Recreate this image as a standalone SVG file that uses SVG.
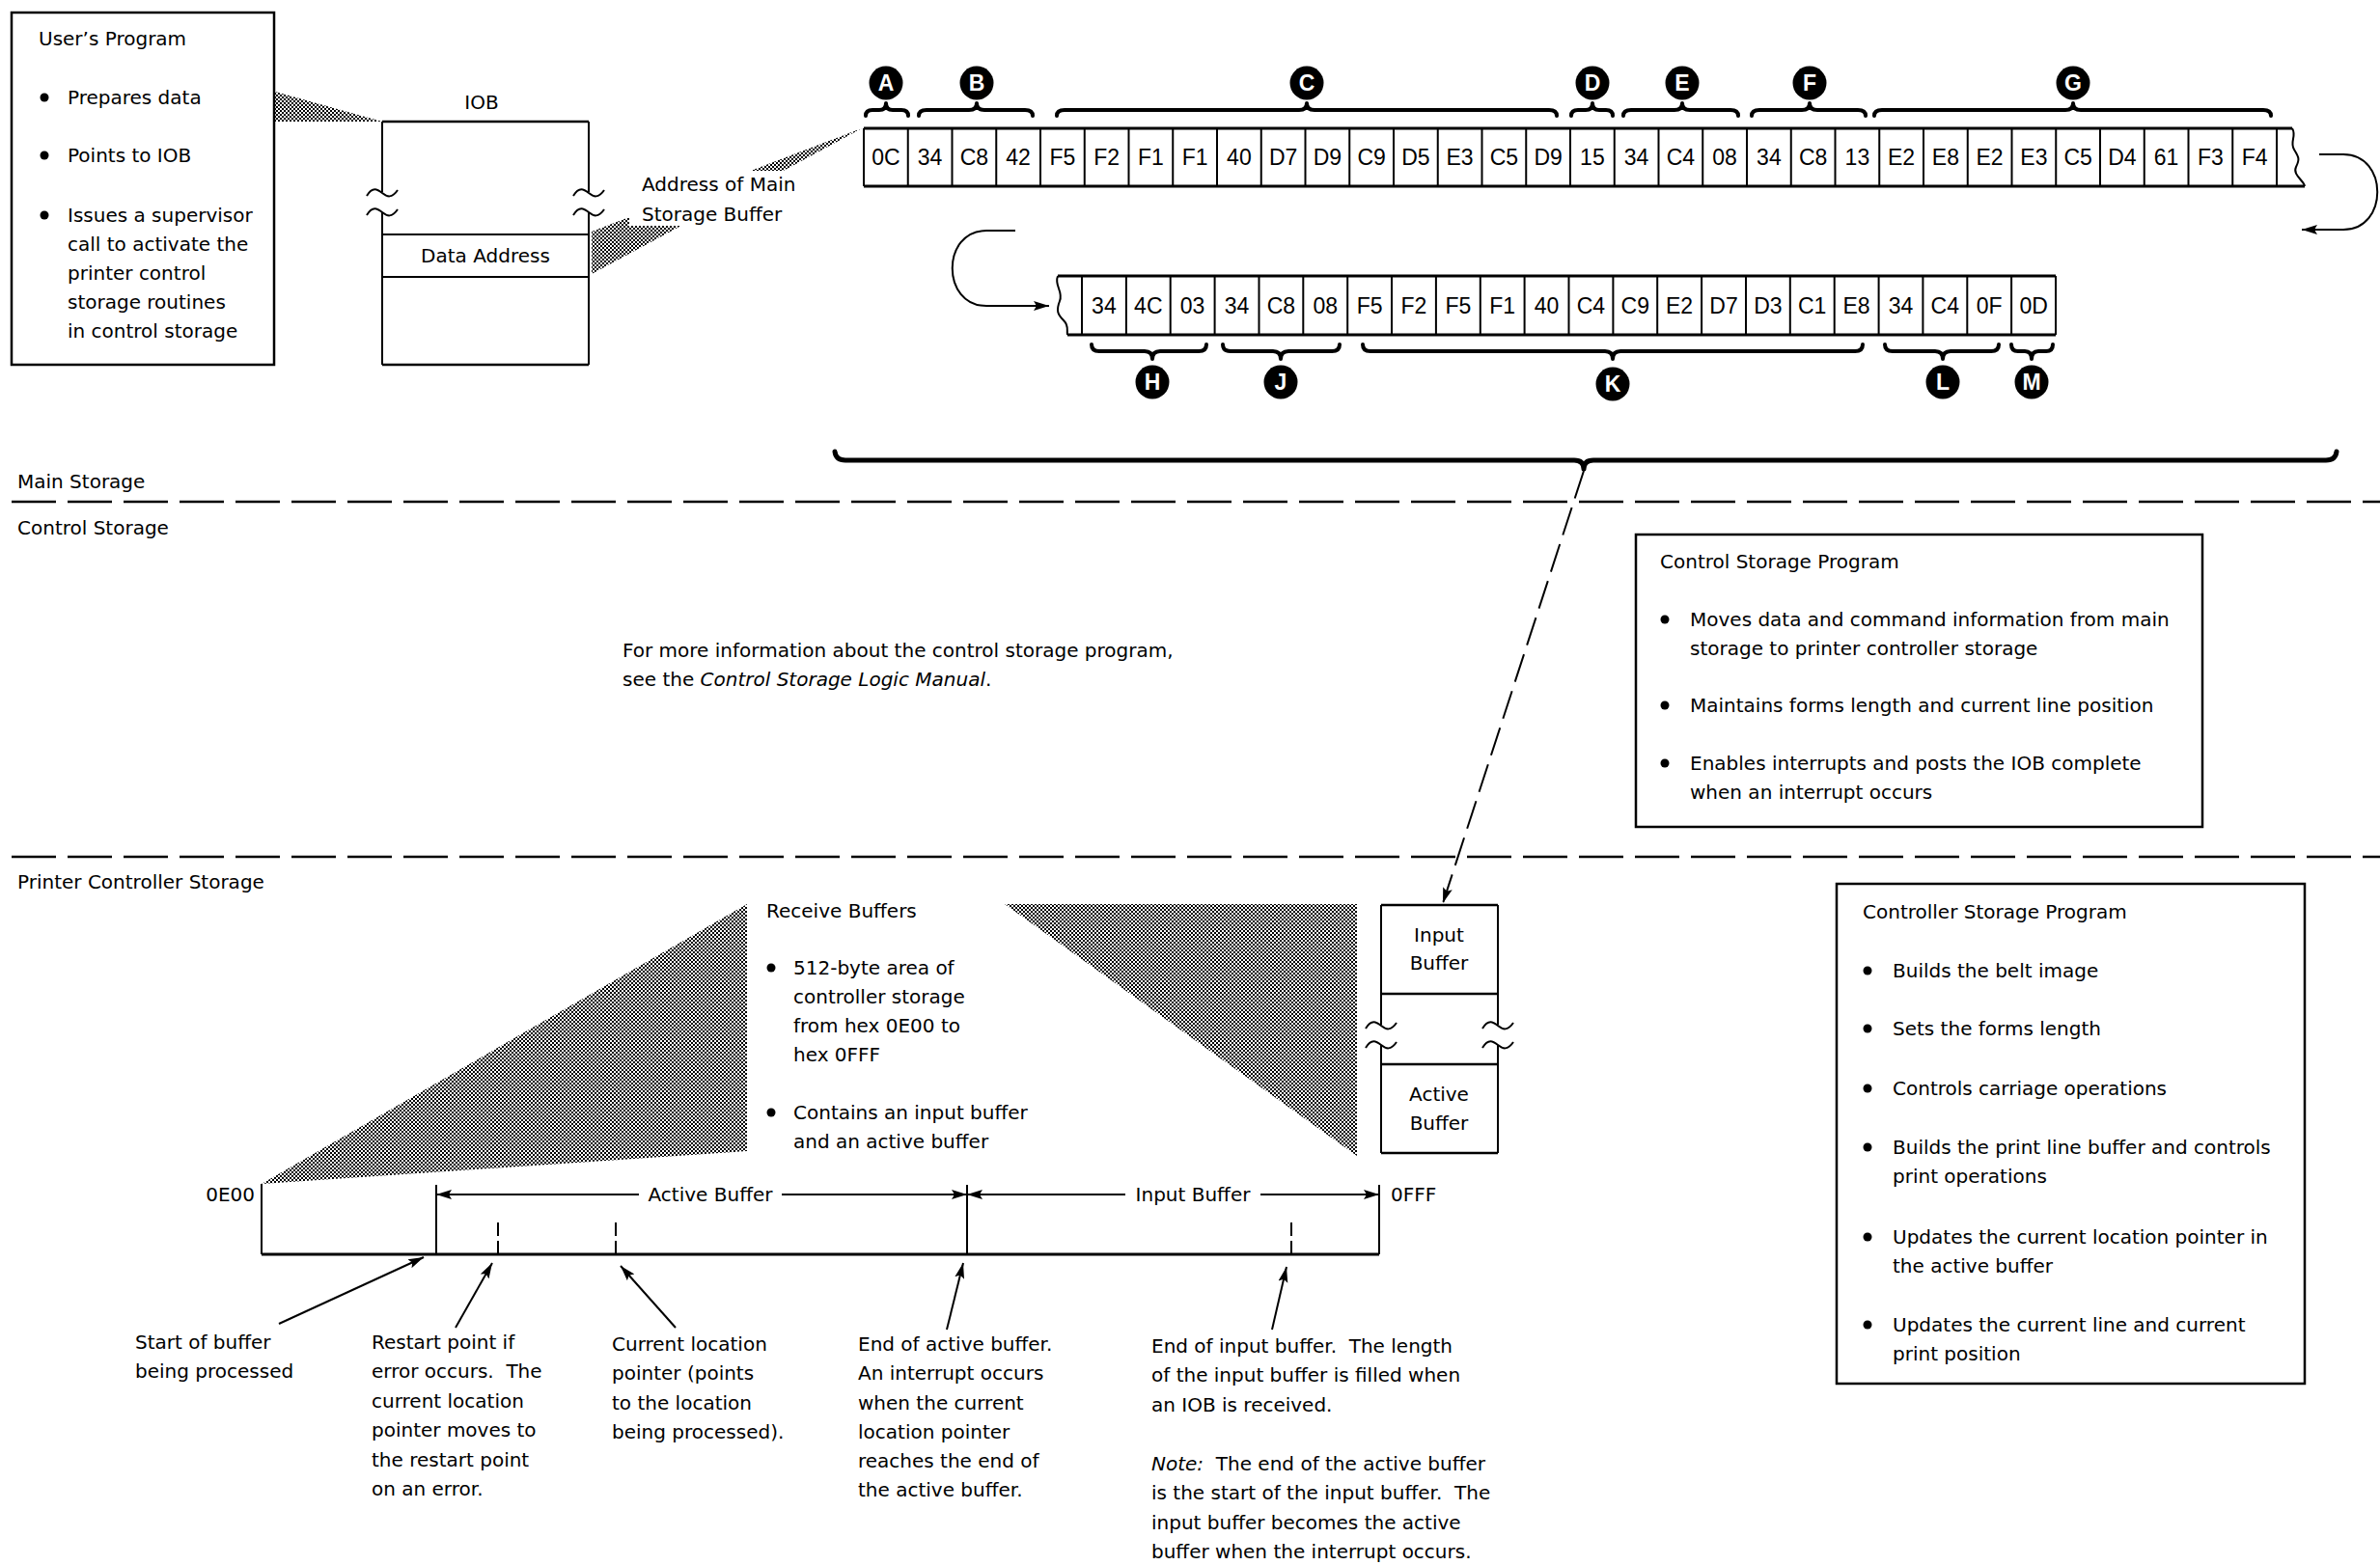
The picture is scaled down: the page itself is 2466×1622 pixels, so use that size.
<svg xmlns="http://www.w3.org/2000/svg" xmlns:xlink="http://www.w3.org/1999/xlink" width="2466" height="1622" viewBox="0 0 2466 1622">
<style>
.t{font-family:"DejaVu Sans","Liberation Sans",sans-serif;font-size:20px;fill:#000;white-space:pre}
.hex{font-family:"Liberation Sans",Arial,sans-serif;font-size:23px;fill:#000;text-anchor:middle}
.lbl{font-family:"Liberation Sans",Arial,sans-serif;font-weight:bold;font-size:23px;fill:#fff;text-anchor:middle}
.box{fill:none;stroke:#000;stroke-width:2.5}
.ln{fill:none;stroke:#000;stroke-width:2}
.thk{fill:none;stroke:#000;stroke-width:3}
.brace{fill:none;stroke:#000;stroke-width:4;stroke-linejoin:round;stroke-linecap:round}
.dash{fill:none;stroke:#000;stroke-width:2.5;stroke-dasharray:46 12}
.tick{fill:none;stroke:#000;stroke-width:2;stroke-dasharray:14 5}
.shade{fill:url(#dots);stroke:none}
.arr{fill:none;stroke:#000;stroke-width:2;marker-end:url(#ah)}
.c{fill:#000}
</style>
<defs>
<pattern id="dots" patternUnits="userSpaceOnUse" width="4" height="4">
<rect x="0" y="0" width="2" height="2" fill="#000"/>
<rect x="2" y="2" width="2" height="2" fill="#000"/>
</pattern>
<marker id="ah" markerUnits="userSpaceOnUse" markerWidth="18" markerHeight="12" refX="16" refY="6" orient="auto">
<path d="M0,1 L16,6 L0,11 L3,6 z" fill="#000"/>
</marker>
<path id="tilde" d="M-16,3 C-10,-7 -5,-4 0,0 S10,6 16,-3" fill="none" stroke="#000" stroke-width="2"/>
</defs>
<rect width="2466" height="1622" fill="#fff"/>

<!-- region separators -->
<g id="separators">
<line class="dash" x1="12" y1="520" x2="2466" y2="520"/>
<line class="dash" x1="12" y1="888" x2="2466" y2="888"/>
<text class="t" x="18" y="506">Main Storage</text>
<text class="t" x="18" y="554">Control Storage</text>
<text class="t" x="18" y="921">Printer Controller Storage</text>
</g>

<!-- shaded wedges -->
<g id="wedges">
<polygon class="shade" points="285,95 285,126 396,126"/>
<polygon class="shade" points="613,240 613,284 893,133"/>
<rect x="652" y="177" width="186" height="57" fill="#fff"/>
<polygon class="shade" points="271,1227 774,937 774,1193"/>
<polygon class="shade" points="1041,937 1406,937 1406,1198"/>
</g>

<g id="users-program">
<rect class="box" x="12" y="13" width="272" height="365"/>
<text class="t" x="40" y="47">User’s Program</text>
<circle class="c" cx="46" cy="101" r="4.5"/>
<text class="t" x="70" y="108">Prepares data</text>
<circle class="c" cx="46" cy="161" r="4.5"/>
<text class="t" x="70" y="168">Points to IOB</text>
<circle class="c" cx="46" cy="223" r="4.5"/>
<text class="t" x="70" y="230">Issues a supervisor</text>
<text class="t" x="70" y="260">call to activate the</text>
<text class="t" x="70" y="290">printer control</text>
<text class="t" x="70" y="320">storage routines</text>
<text class="t" x="70" y="350">in control storage</text>
</g>

<g id="iob">
<text class="t" x="499" y="113" text-anchor="middle">IOB</text>
<line class="box" x1="396" y1="126" x2="610" y2="126"/>
<line class="box" x1="396" y1="378" x2="610" y2="378"/>
<line class="ln" x1="396" y1="243" x2="610" y2="243"/>
<line class="ln" x1="396" y1="287" x2="610" y2="287"/>
<line class="ln" x1="396" y1="126" x2="396" y2="199"/>
<line class="ln" x1="396" y1="220" x2="396" y2="378"/>
<line class="ln" x1="610" y1="126" x2="610" y2="199"/>
<line class="ln" x1="610" y1="220" x2="610" y2="378"/>
<use xlink:href="#tilde" x="396" y="200"/>
<use xlink:href="#tilde" x="396" y="220"/>
<use xlink:href="#tilde" x="610" y="200"/>
<use xlink:href="#tilde" x="610" y="220"/>
<text class="t" x="503" y="272" text-anchor="middle">Data Address</text>
</g>

<g id="address-label">
<text class="t" x="665" y="198">Address of Main</text>
<text class="t" x="665" y="229">Storage Buffer</text>
</g>

<g id="buffer-row-1">
<line class="thk" x1="895" y1="133" x2="2375" y2="133"/>
<line class="thk" x1="895" y1="193" x2="2388" y2="193"/>
<path class="ln" d="M2375,133 c5,8 -3,14 2,22 s6,10 2,18 s8,14 9,20"/>
<path class="ln" d="M895,133V193M940.75,133V193M986.5,133V193M1032.25,133V193M1078,133V193M1123.75,133V193M1169.5,133V193M1215.25,133V193M1261,133V193M1306.75,133V193M1352.5,133V193M1398.25,133V193M1444,133V193M1489.75,133V193M1535.5,133V193M1581.25,133V193M1627,133V193M1672.75,133V193M1718.5,133V193M1764.25,133V193M1810,133V193M1855.75,133V193M1901.5,133V193M1947.25,133V193M1993,133V193M2038.75,133V193M2084.5,133V193M2130.25,133V193M2176,133V193M2221.75,133V193M2267.5,133V193M2313.25,133V193M2359,133V193"/>
<text class="hex" x="917.9" y="171">0C</text>
<text class="hex" x="963.6" y="171">34</text>
<text class="hex" x="1009.4" y="171">C8</text>
<text class="hex" x="1055.1" y="171">42</text>
<text class="hex" x="1100.9" y="171">F5</text>
<text class="hex" x="1146.6" y="171">F2</text>
<text class="hex" x="1192.4" y="171">F1</text>
<text class="hex" x="1238.1" y="171">F1</text>
<text class="hex" x="1283.9" y="171">40</text>
<text class="hex" x="1329.6" y="171">D7</text>
<text class="hex" x="1375.4" y="171">D9</text>
<text class="hex" x="1421.1" y="171">C9</text>
<text class="hex" x="1466.9" y="171">D5</text>
<text class="hex" x="1512.6" y="171">E3</text>
<text class="hex" x="1558.4" y="171">C5</text>
<text class="hex" x="1604.1" y="171">D9</text>
<text class="hex" x="1649.9" y="171">15</text>
<text class="hex" x="1695.6" y="171">34</text>
<text class="hex" x="1741.4" y="171">C4</text>
<text class="hex" x="1787.1" y="171">08</text>
<text class="hex" x="1832.9" y="171">34</text>
<text class="hex" x="1878.6" y="171">C8</text>
<text class="hex" x="1924.4" y="171">13</text>
<text class="hex" x="1970.1" y="171">E2</text>
<text class="hex" x="2015.9" y="171">E8</text>
<text class="hex" x="2061.6" y="171">E2</text>
<text class="hex" x="2107.4" y="171">E3</text>
<text class="hex" x="2153.1" y="171">C5</text>
<text class="hex" x="2198.9" y="171">D4</text>
<text class="hex" x="2244.6" y="171">61</text>
<text class="hex" x="2290.4" y="171">F3</text>
<text class="hex" x="2336.1" y="171">F4</text>
</g>

<g id="labels-row-1">
<path class="brace" d="M897,120 Q897,114 904,114 L911,114 Q918,114 918,107 Q918,114 925,114 L934,114 Q941,114 941,120"/>
<path class="brace" d="M952,120 Q952,114 960,114 L1004,114 Q1012,114 1012,107 Q1012,114 1020,114 L1062,114 Q1070,114 1070,120"/>
<path class="brace" d="M1095,120 Q1095,114 1103,114 L1346,114 Q1354,114 1354,107 Q1354,114 1362,114 L1605,114 Q1613,114 1613,120"/>
<path class="brace" d="M1628,120 Q1628,114 1635,114 L1643,114 Q1650,114 1650,107 Q1650,114 1657,114 L1664,114 Q1671,114 1671,120"/>
<path class="brace" d="M1682,120 Q1682,114 1690,114 L1735,114 Q1743,114 1743,107 Q1743,114 1751,114 L1793,114 Q1801,114 1801,120"/>
<path class="brace" d="M1815,120 Q1815,114 1823,114 L1867,114 Q1875,114 1875,107 Q1875,114 1883,114 L1925,114 Q1933,114 1933,120"/>
<path class="brace" d="M1942,120 Q1942,114 1950,114 L2140,114 Q2148,114 2148,107 Q2148,114 2156,114 L2345,114 Q2353,114 2353,120"/>
<circle class="c" cx="918" cy="86" r="17.5"/><text class="lbl" x="918" y="94">A</text>
<circle class="c" cx="1012" cy="86" r="17.5"/><text class="lbl" x="1012" y="94">B</text>
<circle class="c" cx="1354" cy="86" r="17.5"/><text class="lbl" x="1354" y="94">C</text>
<circle class="c" cx="1650" cy="86" r="17.5"/><text class="lbl" x="1650" y="94">D</text>
<circle class="c" cx="1743" cy="86" r="17.5"/><text class="lbl" x="1743" y="94">E</text>
<circle class="c" cx="1875" cy="86" r="17.5"/><text class="lbl" x="1875" y="94">F</text>
<circle class="c" cx="2148" cy="86" r="17.5"/><text class="lbl" x="2148" y="94">G</text>
</g>

<g id="buffer-row-2">
<line class="thk" x1="1096" y1="286" x2="2130" y2="286"/>
<line class="thk" x1="1106" y1="347" x2="2130" y2="347"/>
<path class="ln" d="M1096,286 c-4,10 6,16 2,26 s-2,14 4,20 s3,10 4,15"/>
<path class="ln" d="M1121,286V347M1166.9,286V347M1212.7,286V347M1258.6,286V347M1304.5,286V347M1350.3,286V347M1396.2,286V347M1442,286V347M1487.9,286V347M1533.8,286V347M1579.6,286V347M1625.5,286V347M1671.4,286V347M1717.2,286V347M1763.1,286V347M1809,286V347M1854.8,286V347M1900.7,286V347M1946.6,286V347M1992.4,286V347M2038.3,286V347M2084.1,286V347M2130,286V347"/>
<text class="hex" x="1143.9" y="325">34</text>
<text class="hex" x="1189.8" y="325">4C</text>
<text class="hex" x="1235.6" y="325">03</text>
<text class="hex" x="1281.5" y="325">34</text>
<text class="hex" x="1327.4" y="325">C8</text>
<text class="hex" x="1373.2" y="325">08</text>
<text class="hex" x="1419.1" y="325">F5</text>
<text class="hex" x="1464.9" y="325">F2</text>
<text class="hex" x="1510.8" y="325">F5</text>
<text class="hex" x="1556.7" y="325">F1</text>
<text class="hex" x="1602.5" y="325">40</text>
<text class="hex" x="1648.4" y="325">C4</text>
<text class="hex" x="1694.3" y="325">C9</text>
<text class="hex" x="1740.1" y="325">E2</text>
<text class="hex" x="1786" y="325">D7</text>
<text class="hex" x="1831.9" y="325">D3</text>
<text class="hex" x="1877.7" y="325">C1</text>
<text class="hex" x="1923.6" y="325">E8</text>
<text class="hex" x="1969.5" y="325">34</text>
<text class="hex" x="2015.3" y="325">C4</text>
<text class="hex" x="2061.2" y="325">0F</text>
<text class="hex" x="2107.1" y="325">0D</text>
</g>

<g id="labels-row-2">
<path class="brace" d="M1131,357 Q1131,364 1139,364 L1186,364 Q1194,364 1194,372 Q1194,364 1202,364 L1242,364 Q1250,364 1250,357"/>
<path class="brace" d="M1267,357 Q1267,364 1275,364 L1319,364 Q1327,364 1327,372 Q1327,364 1335,364 L1380,364 Q1388,364 1388,357"/>
<path class="brace" d="M1412,357 Q1412,364 1420,364 L1663,364 Q1671,364 1671,372 Q1671,364 1679,364 L1922,364 Q1930,364 1930,357"/>
<path class="brace" d="M1953,357 Q1953,364 1961,364 L2005,364 Q2013,364 2013,372 Q2013,364 2021,364 L2063,364 Q2071,364 2071,357"/>
<path class="brace" d="M2084,357 Q2084,364 2091,364 L2098,364 Q2105,364 2105,372 Q2105,364 2112,364 L2120,364 Q2127,364 2127,357"/>
<circle class="c" cx="1194" cy="396" r="17.5"/><text class="lbl" x="1194" y="404">H</text>
<circle class="c" cx="1327" cy="396" r="17.5"/><text class="lbl" x="1327" y="404">J</text>
<circle class="c" cx="1671" cy="398" r="17.5"/><text class="lbl" x="1671" y="406">K</text>
<circle class="c" cx="2013" cy="396" r="17.5"/><text class="lbl" x="2013" y="404">L</text>
<circle class="c" cx="2105" cy="396" r="17.5"/><text class="lbl" x="2105" y="404">M</text>
<path class="brace" style="stroke-width:5" d="M865,468 Q866,477 876,477 L1631,477 Q1641,477 1641,486 Q1641,477 1651,477 L2410,477 Q2420,477 2421,468"/>
</g>

<g id="connectors">
<path class="arr" d="M2403,160 L2428,160 C2475,160 2475,238 2428,238 L2385,238"/>
<path class="arr" d="M1052,239 L1022,239 C975,239 975,317 1022,317 L1087,317"/>
<path class="arr" style="stroke-dasharray:30 10" d="M1641,488 L1495,936"/>
<line class="arr" x1="289" y1="1372" x2="439" y2="1303"/>
<line class="arr" x1="472" y1="1376" x2="510" y2="1309"/>
<line class="arr" x1="700" y1="1376" x2="643" y2="1312"/>
<line class="arr" x1="981" y1="1378" x2="998" y2="1309"/>
<line class="arr" x1="1318" y1="1378" x2="1333" y2="1313"/>
<line class="arr" x1="662" y1="1238" x2="452" y2="1238"/>
<line class="arr" x1="810" y1="1238" x2="1002" y2="1238"/>
<line class="arr" x1="1166" y1="1238" x2="1002" y2="1238"/>
<line class="arr" x1="1306" y1="1238" x2="1429" y2="1238"/>
</g>

<g id="note-control-storage">
<text class="t" x="645" y="681">For more information about the control storage program,</text>
<text class="t" x="645" y="711">see the <tspan font-style="italic">Control Storage Logic Manual</tspan>.</text>
</g>

<g id="control-storage-program">
<rect class="box" x="1695" y="554" width="587" height="303"/>
<text class="t" x="1720" y="589">Control Storage Program</text>
<circle class="c" cx="1725" cy="642" r="4.5"/>
<text class="t" x="1751" y="649">Moves data and command information from main</text>
<text class="t" x="1751" y="679">storage to printer controller storage</text>
<circle class="c" cx="1725" cy="731" r="4.5"/>
<text class="t" x="1751" y="738">Maintains forms length and current line position</text>
<circle class="c" cx="1725" cy="791" r="4.5"/>
<text class="t" x="1751" y="798">Enables interrupts and posts the IOB complete</text>
<text class="t" x="1751" y="828">when an interrupt occurs</text>
</g>

<g id="receive-buffers">
<text class="t" x="794" y="951">Receive Buffers</text>
<circle class="c" cx="799" cy="1003" r="4.5"/>
<text class="t" x="822" y="1010">512-byte area of</text>
<text class="t" x="822" y="1040">controller storage</text>
<text class="t" x="822" y="1070">from hex 0E00 to</text>
<text class="t" x="822" y="1100">hex 0FFF</text>
<circle class="c" cx="799" cy="1153" r="4.5"/>
<text class="t" x="822" y="1160">Contains an input buffer</text>
<text class="t" x="822" y="1190">and an active buffer</text>
</g>

<g id="input-active-box">
<line class="box" x1="1431" y1="938" x2="1552" y2="938"/>
<line class="box" x1="1431" y1="1030" x2="1552" y2="1030"/>
<line class="box" x1="1431" y1="1103" x2="1552" y2="1103"/>
<line class="box" x1="1431" y1="1195" x2="1552" y2="1195"/>
<line class="ln" x1="1431" y1="938" x2="1431" y2="1062"/>
<line class="ln" x1="1431" y1="1083" x2="1431" y2="1195"/>
<line class="ln" x1="1552" y1="938" x2="1552" y2="1062"/>
<line class="ln" x1="1552" y1="1083" x2="1552" y2="1195"/>
<use xlink:href="#tilde" x="1431" y="1063"/>
<use xlink:href="#tilde" x="1431" y="1083"/>
<use xlink:href="#tilde" x="1552" y="1063"/>
<use xlink:href="#tilde" x="1552" y="1083"/>
<text class="t" x="1491" y="976" text-anchor="middle">Input</text>
<text class="t" x="1491" y="1005" text-anchor="middle">Buffer</text>
<text class="t" x="1491" y="1141" text-anchor="middle">Active</text>
<text class="t" x="1491" y="1171" text-anchor="middle">Buffer</text>
</g>

<g id="storage-bar">
<path class="ln" d="M271,1227 V1300 M452,1228 V1300 M1002,1228 V1300 M1429,1228 V1300"/>
<line class="thk" x1="271" y1="1300" x2="1429" y2="1300"/>
<line class="tick" x1="516" y1="1267" x2="516" y2="1300"/>
<line class="tick" x1="638" y1="1267" x2="638" y2="1300"/>
<line class="tick" x1="1338" y1="1267" x2="1338" y2="1300"/>
<text class="t" x="264" y="1245" text-anchor="end">0E00</text>
<text class="t" x="1441" y="1245">0FFF</text>
<text class="t" x="736" y="1245" text-anchor="middle">Active Buffer</text>
<text class="t" x="1236" y="1245" text-anchor="middle">Input Buffer</text>
</g>

<g id="pointer-notes">
<text class="t" x="140" y="1398">Start of buffer</text>
<text class="t" x="140" y="1428">being processed</text>
<text class="t" x="385" y="1398">Restart point if</text>
<text class="t" x="385" y="1428">error occurs.  The</text>
<text class="t" x="385" y="1459">current location</text>
<text class="t" x="385" y="1489">pointer moves to</text>
<text class="t" x="385" y="1520">the restart point</text>
<text class="t" x="385" y="1550">on an error.</text>
<text class="t" x="634" y="1400">Current location</text>
<text class="t" x="634" y="1430">pointer (points</text>
<text class="t" x="634" y="1461">to the location</text>
<text class="t" x="634" y="1491">being processed).</text>
<text class="t" x="889" y="1400">End of active buffer.</text>
<text class="t" x="889" y="1430">An interrupt occurs</text>
<text class="t" x="889" y="1461">when the current</text>
<text class="t" x="889" y="1491">location pointer</text>
<text class="t" x="889" y="1521">reaches the end of</text>
<text class="t" x="889" y="1551">the active buffer.</text>
<text class="t" x="1193" y="1402">End of input buffer.  The length</text>
<text class="t" x="1193" y="1432">of the input buffer is filled when</text>
<text class="t" x="1193" y="1463">an IOB is received.</text>
<text class="t" x="1193" y="1524"><tspan font-style="italic">Note:</tspan>  The end of the active buffer</text>
<text class="t" x="1193" y="1554">is the start of the input buffer.  The</text>
<text class="t" x="1193" y="1585">input buffer becomes the active</text>
<text class="t" x="1193" y="1615">buffer when the interrupt occurs.</text>
</g>

<g id="controller-storage-program">
<rect class="box" x="1903" y="916" width="485" height="518"/>
<text class="t" x="1930" y="952">Controller Storage Program</text>
<circle class="c" cx="1935" cy="1006" r="4.5"/>
<text class="t" x="1961" y="1013">Builds the belt image</text>
<circle class="c" cx="1935" cy="1066" r="4.5"/>
<text class="t" x="1961" y="1073">Sets the forms length</text>
<circle class="c" cx="1935" cy="1128" r="4.5"/>
<text class="t" x="1961" y="1135">Controls carriage operations</text>
<circle class="c" cx="1935" cy="1189" r="4.5"/>
<text class="t" x="1961" y="1196">Builds the print line buffer and controls</text>
<text class="t" x="1961" y="1226">print operations</text>
<circle class="c" cx="1935" cy="1282" r="4.5"/>
<text class="t" x="1961" y="1289">Updates the current location pointer in</text>
<text class="t" x="1961" y="1319">the active buffer</text>
<circle class="c" cx="1935" cy="1373" r="4.5"/>
<text class="t" x="1961" y="1380">Updates the current line and current</text>
<text class="t" x="1961" y="1410">print position</text>
</g>
</svg>
